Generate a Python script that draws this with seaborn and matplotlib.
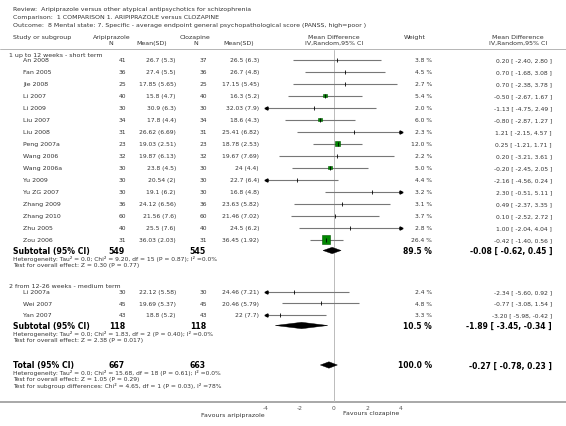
import numpy as np
import matplotlib
matplotlib.use("Agg")
import matplotlib.pyplot as plt
import seaborn as sns
from matplotlib.patches import Polygon

sns.set_style("white")
plt.rcParams['font.family'] = ['DejaVu Sans']

# ---------------- data ----------------
g1_studies = ["An 2008", "Fan 2005", "Jie 2008", "Li 2007", "Li 2009", "Liu 2007", "Liu 2008",
              "Peng 2007a", "Wang 2006", "Wang 2006a", "Yu 2009", "Yu ZG 2007", "Zhang 2009",
              "Zhang 2010", "Zhu 2005", "Zou 2006"]
g1_n1 = [41, 36, 25, 40, 30, 34, 31, 23, 32, 30, 30, 30, 36, 60, 40, 31]
g1_m1 = ["26.7", "27.4", "17.85", "15.8", "30.9", "17.8", "26.62", "19.03", "19.87", "23.8", "20.54",
         "19.1", "24.12", "21.56", "25.5", "36.03"]
g1_sd1 = ["5.3", "5.5", "5.65", "4.7", "6.3", "4.4", "6.69", "2.51", "6.13", "4.5", "2", "6.2",
          "6.56", "7.6", "7.6", "2.03"]
g1_n2 = [37, 36, 25, 40, 30, 34, 31, 23, 32, 30, 30, 30, 36, 60, 40, 31]
g1_m2 = ["26.5", "26.7", "17.15", "16.3", "32.03", "18.6", "25.41", "18.78", "19.67", "24", "22.7",
         "16.8", "23.63", "21.46", "24.5", "36.45"]
g1_sd2 = ["6.3", "4.8", "5.45", "5.2", "7.9", "4.3", "6.82", "2.53", "7.69", "4.4", "6.4", "4.8",
          "5.82", "7.02", "6.2", "1.92"]
g1_w = [3.8, 4.5, 2.7, 5.4, 2.0, 6.0, 2.3, 12.0, 2.2, 5.0, 4.4, 3.2, 3.1, 3.7, 2.8, 26.4]
g1_md = [0.20, 0.70, 0.70, -0.50, -1.13, -0.80, 1.21, 0.25, 0.20, -0.20, -2.16, 2.30, 0.49, 0.10, 1.00, -0.42]
g1_lo = [-2.40, -1.68, -2.38, -2.67, -4.75, -2.87, -2.15, -1.21, -3.21, -2.45, -4.56, -0.51, -2.37, -2.52, -2.04, -1.40]
g1_hi = [2.80, 3.08, 3.78, 1.67, 2.49, 1.27, 4.57, 1.71, 3.61, 2.05, 0.24, 5.11, 3.35, 2.72, 4.04, 0.56]
g1_sub = dict(n1=549, n2=545, w=89.5, md=-0.08, lo=-0.62, hi=0.45,
              het="Heterogeneity: Tau² = 0.0; Chi² = 9.20, df = 15 (P = 0.87); I² =0.0%",
              test="Test for overall effect: Z = 0.30 (P = 0.77)")

g2_studies = ["Li 2007a", "Wei 2007", "Yan 2007"]
g2_n1 = [30, 45, 43]
g2_m1 = ["22.12", "19.69", "18.8"]
g2_sd1 = ["5.58", "5.37", "5.2"]
g2_n2 = [30, 45, 43]
g2_m2 = ["24.46", "20.46", "22"]
g2_sd2 = ["7.21", "5.79", "7.7"]
g2_w = [2.4, 4.8, 3.3]
g2_md = [-2.34, -0.77, -3.20]
g2_lo = [-5.60, -3.08, -5.98]
g2_hi = [0.92, 1.54, -0.42]
g2_sub = dict(n1=118, n2=118, w=10.5, md=-1.89, lo=-3.45, hi=-0.34,
              het="Heterogeneity: Tau² = 0.0; Chi² = 1.83, df = 2 (P = 0.40); I² =0.0%",
              test="Test for overall effect: Z = 2.38 (P = 0.017)")

total = dict(n1=667, n2=663, w=100.0, md=-0.27, lo=-0.78, hi=0.23)
total_notes = ["Heterogeneity: Tau² = 0.0; Chi² = 15.68, df = 18 (P = 0.61); I² =0.0%",
               "Test for overall effect: Z = 1.05 (P = 0.29)",
               "Test for subgroup differences: Chi² = 4.65, df = 1 (P = 0.03), I² =78%"]

tick_vals = [-4, -2, 0, 2, 4]
titles = ["Review:  Aripiprazole versus other atypical antipsychotics for schizophrenia",
          "Comparison:  1 COMPARISON 1. ARIPIPRAZOLE versus CLOZAPINE",
          "Outcome:  8 Mental state: 7. Specific - average endpoint general psychopathological score (PANSS, high=poor )"]

# ---------------- layout (pixel units) ----------------
W, H = 566, 427
fig = plt.figure(figsize=(W / 100, H / 100), dpi=100)
ax_t = fig.add_axes([0, 0, 1, 1])
ax_t.set_xlim(0, W)
ax_t.set_ylim(H, 0)
ax_t.axis("off")

AXIS_Y = 403
x_left, x_right = 266, 401
ax_f = fig.add_axes([x_left / W, (H - AXIS_Y) / H, (x_right - x_left) / W, AXIS_Y / H])
ax_f.patch.set_alpha(0)
ax_f.set_xlim(-4, 4)
ax_f.set_ylim(AXIS_Y, 0)
for s in ["top", "left", "right", "bottom"]:
    ax_f.spines[s].set_visible(False)
ax_f.set_yticks([])
ax_f.set_xticks(tick_vals)
ax_f.set_xticklabels([str(v) for v in tick_vals])
ax_f.tick_params(axis="x", direction="inout", length=3, width=0.6, color="#666666",
                 labelsize=4.3, labelcolor="#555555", pad=0.5)

TXT = "#333333"
FS = 4.5
FSN = 4.3

# titles
for i, t in enumerate(titles):
    ax_t.text(13, 10 + i * 7.6, t, fontsize=FS, color=TXT, va="center", ha="left")

# headers
ax_t.text(13, 37.5, "Study or subgroup", fontsize=FS, color=TXT, va="center")
ax_t.text(112, 37.5, "Aripiprazole", fontsize=FS, color=TXT, va="center", ha="center")
ax_t.text(111, 43.5, "N", fontsize=FS, color=TXT, va="center", ha="center")
ax_t.text(152, 43.5, "Mean(SD)", fontsize=FS, color=TXT, va="center", ha="center")
ax_t.text(195, 37.5, "Clozapine", fontsize=FS, color=TXT, va="center", ha="center")
ax_t.text(196, 43.5, "N", fontsize=FS, color=TXT, va="center", ha="center")
ax_t.text(239, 43.5, "Mean(SD)", fontsize=FS, color=TXT, va="center", ha="center")
ax_t.text(334, 37.5, "Mean Difference", fontsize=FS, color=TXT, va="center", ha="center")
ax_t.text(334, 43.5, "IV,Random,95% CI", fontsize=FS, color=TXT, va="center", ha="center")
ax_t.text(415, 37.5, "Weight", fontsize=FS, color=TXT, va="center", ha="center")
ax_t.text(518, 37.5, "Mean Difference", fontsize=FS, color=TXT, va="center", ha="center")
ax_t.text(518, 43.5, "IV,Random,95% CI", fontsize=FS, color=TXT, va="center", ha="center")
ax_t.plot([0, W], [49.5, 49.5], color="#aaaaaa", lw=0.6)

# full-width axis line
ax_t.plot([0, W], [AXIS_Y, AXIS_Y], color="#999999", lw=1.2)
ax_t.text(265, 416, "Favours aripiprazole", fontsize=FS, color=TXT, va="center", ha="right")
ax_t.text(343, 414, "Favours clozapine", fontsize=FS, color=TXT, va="center", ha="left")

# zero line
ax_f.plot([0, 0], [51, AXIS_Y], color="#bbbbbb", lw=0.7, zorder=1)


def fmt_ci(md, lo, hi):
    return f"{md:.2f} [ {lo:.2f}, {hi:.2f} ]"


def draw_studies(names, n1, m1, sd1, n2, m2, sd2, w, md, lo, hi, ys):
    for i, y in enumerate(ys):
        ax_t.text(23, y, names[i], fontsize=FS, color=TXT, va="center")
        ax_t.text(126, y, str(n1[i]), fontsize=FSN, color=TXT, va="center", ha="right")
        ax_t.text(176, y, f"{m1[i]} ({sd1[i]})", fontsize=FSN, color=TXT, va="center", ha="right")
        ax_t.text(207, y, str(n2[i]), fontsize=FSN, color=TXT, va="center", ha="right")
        ax_t.text(259, y, f"{m2[i]} ({sd2[i]})", fontsize=FSN, color=TXT, va="center", ha="right")
        ax_t.text(432, y, f"{w[i]:.1f} %", fontsize=FSN, color=TXT, va="center", ha="right")
        ax_t.text(552, y, fmt_ci(md[i], lo[i], hi[i]), fontsize=FSN, color=TXT, va="center", ha="right")
    lo_c = np.clip(lo, -4, 4)
    hi_c = np.clip(hi, -4, 4)
    ax_f.hlines(ys, lo_c, hi_c, color="#777777", lw=0.8, zorder=2)
    for i, y in enumerate(ys):
        if lo[i] < -4:
            ax_f.plot([-4], [y], marker="<", ms=2.2, color="black", zorder=3, clip_on=False)
        if hi[i] > 4:
            ax_f.plot([4], [y], marker=">", ms=2.2, color="black", zorder=3, clip_on=False)
    w_arr = np.array(w)
    big = w_arr >= 5.0
    if big.any():
        sns.scatterplot(x=np.array(md)[big], y=np.array(ys)[big], size=w_arr[big],
                        sizes=(1.3 * 5.0, 1.3 * 26.4), size_norm=(5.0, 26.4),
                        marker="s", color="#008800", edgecolor="#005500", linewidth=0.4,
                        legend=False, ax=ax_f, zorder=4)
    ax_f.vlines(md, np.array(ys) - 2, np.array(ys) + 2, color="black", lw=0.6, zorder=5)


def draw_diamond(md, lo, hi, y, h=3.2):
    poly = Polygon([[lo, y], [md, y - h], [hi, y], [md, y + h]], closed=True,
                   facecolor="black", edgecolor="black", lw=0.3, zorder=4)
    ax_f.add_patch(poly)


def draw_summary(label, d, y):
    ax_t.text(13, y, label, fontsize=5.6, fontweight="bold", color="black", va="center")
    ax_t.text(125, y, str(d["n1"]), fontsize=5.6, fontweight="bold", color="black", va="center", ha="right")
    ax_t.text(206, y, str(d["n2"]), fontsize=5.6, fontweight="bold", color="black", va="center", ha="right")
    ax_t.text(432, y, f"{d['w']:.1f} %", fontsize=5.5, fontweight="bold", color="black", va="center", ha="right")
    ax_t.text(552, y, fmt_ci(d["md"], d["lo"], d["hi"]), fontsize=5.5, fontweight="bold",
              color="black", va="center", ha="right")
    draw_diamond(d["md"], d["lo"], d["hi"], y)


# group 1
ax_t.text(9, 55.5, "1 up to 12 weeks - short term", fontsize=FS, color=TXT, va="center")
ys1 = [60.5 + 12 * i for i in range(len(g1_studies))]
draw_studies(g1_studies, g1_n1, g1_m1, g1_sd1, g1_n2, g1_m2, g1_sd2, g1_w, g1_md, g1_lo, g1_hi, ys1)
draw_summary("Subtotal (95% CI)", g1_sub, 251.5)
ax_t.text(13, 259, g1_sub["het"], fontsize=FSN, color=TXT, va="center")
ax_t.text(13, 265.5, g1_sub["test"], fontsize=FSN, color=TXT, va="center")

# group 2
ax_t.text(9, 286.5, "2 from 12-26 weeks - medium term", fontsize=FS, color=TXT, va="center")
ys2 = [292.5 + 11.7 * i for i in range(len(g2_studies))]
draw_studies(g2_studies, g2_n1, g2_m1, g2_sd1, g2_n2, g2_m2, g2_sd2, g2_w, g2_md, g2_lo, g2_hi, ys2)
draw_summary("Subtotal (95% CI)", g2_sub, 326.5)
ax_t.text(13, 334, g2_sub["het"], fontsize=FSN, color=TXT, va="center")
ax_t.text(13, 340.5, g2_sub["test"], fontsize=FSN, color=TXT, va="center")

# total
draw_summary("Total (95% CI)", total, 366)
for i, t in enumerate(total_notes):
    ax_t.text(13, 373 + 6.5 * i, t, fontsize=FSN, color=TXT, va="center")

fig.savefig("out.png", dpi=100)
